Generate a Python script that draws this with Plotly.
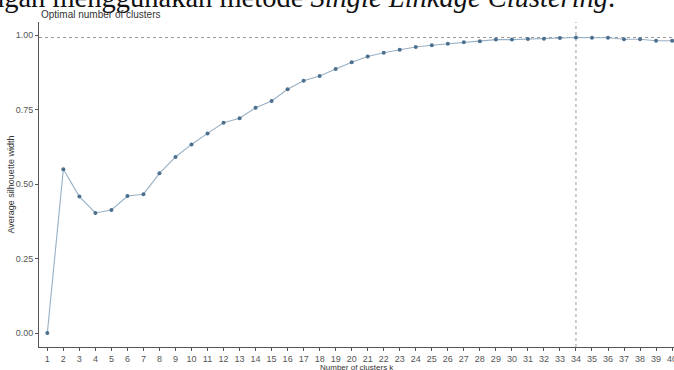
import plotly.graph_objects as go

# Average silhouette width for each candidate number of clusters k
k_values = list(range(1, 41))
silhouette = [
    0.000, 0.550, 0.458, 0.403, 0.413, 0.460, 0.466, 0.536, 0.591, 0.633,
    0.670, 0.706, 0.721, 0.756, 0.779, 0.818, 0.847, 0.863, 0.886, 0.909,
    0.928, 0.941, 0.951, 0.960, 0.966, 0.971, 0.976, 0.979, 0.985, 0.985,
    0.987, 0.988, 0.990, 0.992, 0.991, 0.991, 0.986, 0.986, 0.981, 0.981,
]
y_ticks = [0.00, 0.25, 0.50, 0.75, 1.00]
y_tick_labels = ["0.00", "0.25", "0.50", "0.75", "1.00"]

best_k = k_values[silhouette.index(max(silhouette))]
best_width = max(silhouette)

W, H = 674, 370
M_L, M_R, M_T, M_B = 39, 0, 22, 23
plot_h = H - M_T - M_B
plot_w = W - M_L - M_R


def py(px):
    """Pixel row -> paper y."""
    return 1 + (M_T - px) / plot_h


def px_x(px):
    """Pixel column -> paper x."""
    return (px - M_L) / plot_w


fig = go.Figure()

# Reference lines at the optimum
fig.add_shape(type="line", xref="x", yref="paper", x0=best_k, x1=best_k, y0=0, y1=1,
              line=dict(color="#9a9a9a", width=1, dash="3px,3px"), layer="below")
fig.add_shape(type="line", xref="paper", yref="y", x0=0, x1=1, y0=best_width, y1=best_width,
              line=dict(color="#9a9a9a", width=1, dash="3px,3px"), layer="below")

fig.add_trace(go.Scatter(
    x=k_values, y=silhouette, mode="lines+markers",
    line=dict(color="#98b0c4", width=1.1),
    marker=dict(color="#4b6f8e", size=4),
    hoverinfo="x+y", showlegend=False,
))

axis_common = dict(
    showgrid=False, zeroline=False, showline=True, linecolor="#555555", linewidth=1,
    ticks="outside", ticklen=3, tickwidth=1, tickcolor="#555555",
    ticklabeloverflow="allow", automargin=False,
    tickfont=dict(family="Liberation Sans, Arial, sans-serif", size=9, color="#555555"),
)

fig.update_layout(
    width=W, height=H,
    margin=dict(l=M_L, r=M_R, t=M_T, b=M_B, autoexpand=False),
    paper_bgcolor="white", plot_bgcolor="white",
    xaxis=dict(range=[0.48, 40.12], tickmode="array", tickvals=k_values,
               ticktext=[str(k) for k in k_values], **axis_common),
    yaxis=dict(range=[-0.047, 1.044], tickmode="array", tickvals=y_ticks,
               ticktext=y_tick_labels, **axis_common),
    annotations=[
        dict(text="dengan menggunakan metode <i>Single Linkage Clustering</i>.",
             xref="paper", yref="paper", x=px_x(617), y=py(15.5),
             xanchor="right", yanchor="bottom", showarrow=False,
             font=dict(family="Liberation Serif, Times New Roman, serif", size=28.5, color="#111111")),
        dict(text="Optimal number of clusters", xref="paper", yref="paper",
             x=0, y=py(14.5), xanchor="left", yanchor="middle", showarrow=False,
             font=dict(family="Liberation Sans, Arial, sans-serif", size=10, color="#333333")),
        dict(text="Number of clusters k", xref="paper", yref="paper",
             x=0.5, y=py(367), xanchor="center", yanchor="middle", showarrow=False,
             font=dict(family="Liberation Sans, Arial, sans-serif", size=8, color="#333333")),
        dict(text="Average silhouette width", xref="paper", yref="paper",
             x=px_x(10), y=0.5, xanchor="center", yanchor="middle", textangle=-90,
             showarrow=False,
             font=dict(family="Liberation Sans, Arial, sans-serif", size=9, color="#333333")),
    ],
)

fig.write_html("out.html")
